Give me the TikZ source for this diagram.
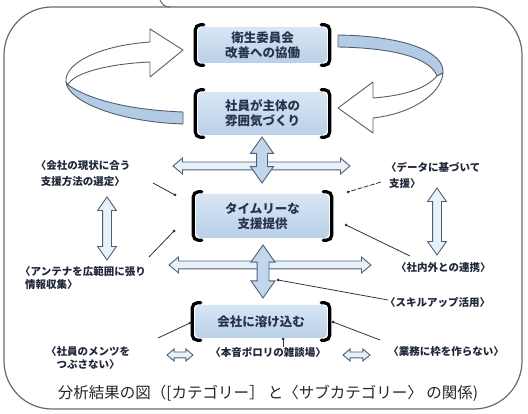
\documentclass[tikz,border=0pt]{standalone}
\usepackage{fontspec}
\newfontfamily\jp{Noto Sans CJK JP}
\usetikzlibrary{shapes.arrows}
\definecolor{navy}{HTML}{27324D}
\definecolor{subtxt}{HTML}{1F2739}
\definecolor{arrline}{HTML}{50607A}
\definecolor{ribblue}{HTML}{B4CBE5}
\definecolor{ribline}{HTML}{555E6E}
\definecolor{boxtop}{HTML}{D8E6F4}
\definecolor{boxbot}{HTML}{B9D0E8}
\definecolor{lightfill}{HTML}{E8F0F8}
\definecolor{vfill}{HTML}{C2D6EC}
\definecolor{frame}{HTML}{6A6A6A}
\newcommand\mybrk[1]{%
  \draw[brk] ([xshift=6pt,yshift=2pt]#1.north west) -- ([xshift=-2.5pt,yshift=2pt]#1.north west)
     -- ([xshift=-2.5pt,yshift=-2pt]#1.south west) -- ([xshift=6pt,yshift=-2pt]#1.south west);
  \draw[brk] ([xshift=-6pt,yshift=2pt]#1.north east) -- ([xshift=2.5pt,yshift=2pt]#1.north east)
     -- ([xshift=2.5pt,yshift=-2pt]#1.south east) -- ([xshift=-6pt,yshift=-2pt]#1.south east);}
\tikzset{
  catbox/.style={top color=boxtop, bottom color=boxbot, rounded corners=5pt, inner sep=0pt,
     align=center, text=navy, font=\jp\bfseries\fontsize{12.5}{15}\selectfont},
  brk/.style={line width=3.2pt, rounded corners=5pt, line cap=round, black},
  subcat/.style={text=subtxt, inner sep=0pt, font=\jp\bfseries\fontsize{10.5}{16}\selectfont},
  dblarrow/.style n args={4}{double arrow, draw=arrline, line width=0.9pt, inner xsep=0pt,
     inner ysep=#1, double arrow head extend=#2, double arrow tip angle=#3, minimum height=#4},
  ptr/.style={draw=navy, line width=0.8pt},
  dot/.style={fill=navy, circle, inner sep=0pt, minimum size=3pt},
  ribw/.style={fill=white, draw=ribline, line width=0.9pt, line join=round},
  ribb/.style={fill=ribblue, draw=ribline, line width=0.9pt, line join=round},
}
\begin{document}
\begin{tikzpicture}[x=1pt, y=-1pt]
\useasboundingbox (0,0) rectangle (528,414);
\fill[white] (0,0) rectangle (528,414);
% outer frame
\draw[frame, line width=1.2pt, rounded corners=48pt] (4,7) rectangle (522,409);
\draw[frame, line width=1pt] (160,0) .. controls (162,4) and (164,7) .. (170,7);

% category boxes
\node[catbox, minimum width=129pt, minimum height=36pt] (b1) at (262.5,45) {衛生委員会\\改善への協働};
\node[catbox, minimum width=129pt, minimum height=43pt] (b2) at (262.5,113.5) {社員が主体の\\雰囲気づくり};
\node[catbox, minimum width=133pt, minimum height=44pt] (b3) at (262.5,216) {タイムリーな\\支援提供};
\node[catbox, minimum width=132pt, minimum height=33pt] (b4) at (261,321.5) {会社に溶け込む};
\mybrk{b1}\mybrk{b2}\mybrk{b3}\mybrk{b4}

% left ribbon arrow
\path[ribb] (66,82) .. controls (68,102) and (120,122) .. (183,124) -- (183,112)
   .. controls (130,110) and (90,100) .. (68,85) -- cycle;
\path[ribw] (150,42) -- (150,29) -- (183,50) -- (150,77) -- (150,62)
   .. controls (105,64) and (72,74) .. (68,85) -- (66,82)
   .. controls (64,65) and (95,46) .. (150,42) -- cycle;
% right ribbon arrow
\path[ribb] (338,35) .. controls (405,36) and (445,52) .. (443,73) -- (437,76)
   .. controls (430,58) and (395,48) .. (338,47) -- cycle;
\path[ribw] (443,73) .. controls (441,95) and (410,114) .. (373,118) -- (373,133)
   -- (338,108) -- (373,82) -- (373,98) .. controls (400,96) and (425,90) .. (437,76) -- cycle;

% double arrows
\node[dblarrow={3.5pt}{4pt}{80}{177pt}, fill=lightfill] (a1) at (261.5,166) {};
\node[dblarrow={5pt}{6pt}{70}{46pt}, fill=vfill, rotate=90] (a2) at (262,160) {};
\node[dblarrow={3.5pt}{4pt}{80}{202pt}, fill=lightfill] (a3) at (270,265) {};
\node[dblarrow={5.5pt}{6pt}{70}{53pt}, fill=vfill, rotate=90] (a4) at (263,271.5) {};
\node[dblarrow={4pt}{5pt}{70}{63pt}, fill=lightfill, rotate=90] (a5) at (107,228.5) {};
\node[dblarrow={4pt}{5pt}{70}{67pt}, fill=lightfill, rotate=90] (a6) at (437,221.5) {};
\node[dblarrow={2.5pt}{3pt}{80}{26pt}, fill=lightfill] (a7) at (180,355) {};
\node[dblarrow={2.5pt}{3pt}{80}{27pt}, fill=lightfill] (a8) at (356.5,355) {};

% sub-categories
\node[subcat, align=center] (s1) at (83,174) {〈会社の現状に合う\\支援方法の選定〉};
\node[subcat, align=left, anchor=west] (s2) at (386,175) {〈データに基づいて\\\hspace*{3pt}支援〉};
\node[subcat, align=left, anchor=west, font=\jp\bfseries\fontsize{10.5}{13}\selectfont] (s3) at (20,277.5) {〈アンテナを広範囲に張り\\\hspace*{5pt}情報収集〉};
\node[subcat, anchor=west] (s4) at (396,268) {〈社内外との連携〉};
\node[subcat, anchor=west] (s5) at (385,303) {〈スキルアップ活用〉};
\node[subcat, align=center, font=\jp\bfseries\fontsize{10.5}{12.5}\selectfont] (s6) at (88,358) {〈社員のメンツを\\つぶさない〉};
\node[subcat] (s7) at (268,352) {〈本音ポロリの雑談場〉};
\node[subcat] (s8) at (446,352) {〈業務に枠を作らない〉};

% pointers
\coordinate (p1a) at (153,183); \coordinate (p1b) at (175,195);
\coordinate (p2a) at (381,182); \coordinate (p2b) at (348,192);
\coordinate (p3a) at (149,257); \coordinate (p3b) at (174,231);
\coordinate (p4a) at (410,256); \coordinate (p4b) at (346,225);
\coordinate (p5a) at (388,300); \coordinate (p5b) at (278,280);
\coordinate (p6a) at (158,338); \coordinate (p6b) at (190,323);
\coordinate (p7a) at (380,340); \coordinate (p7b) at (333,322);
\coordinate (p8a) at (283,347); \coordinate (p8b) at (283,339);
\draw[ptr] (p1a) -- (p1b);
\draw[ptr, dash pattern=on 5pt off 1.5pt] (p2a) -- (p2b);
\draw[ptr] (p3a) -- (p3b);
\draw[ptr] (p4a) -- (p4b);
\draw[ptr] (p5a) -- (p5b);
\draw[ptr] (p6a) -- (p6b);
\draw[ptr] (p7a) -- (p7b);
\draw[ptr] (p8a) -- (p8b);
\foreach \p in {p1b,p2b,p3b,p4b,p5b,p6b,p7b,p8b} \node[dot] at (\p) {};

% caption
\node[text=black!85, inner sep=0pt, font=\jp\fontsize{15.5}{18}\selectfont] (cap) at (268,393)
  {分析結果の図（[カテゴリー］ と〈サブカテゴリー〉 の関係)};
\end{tikzpicture}
\end{document}
